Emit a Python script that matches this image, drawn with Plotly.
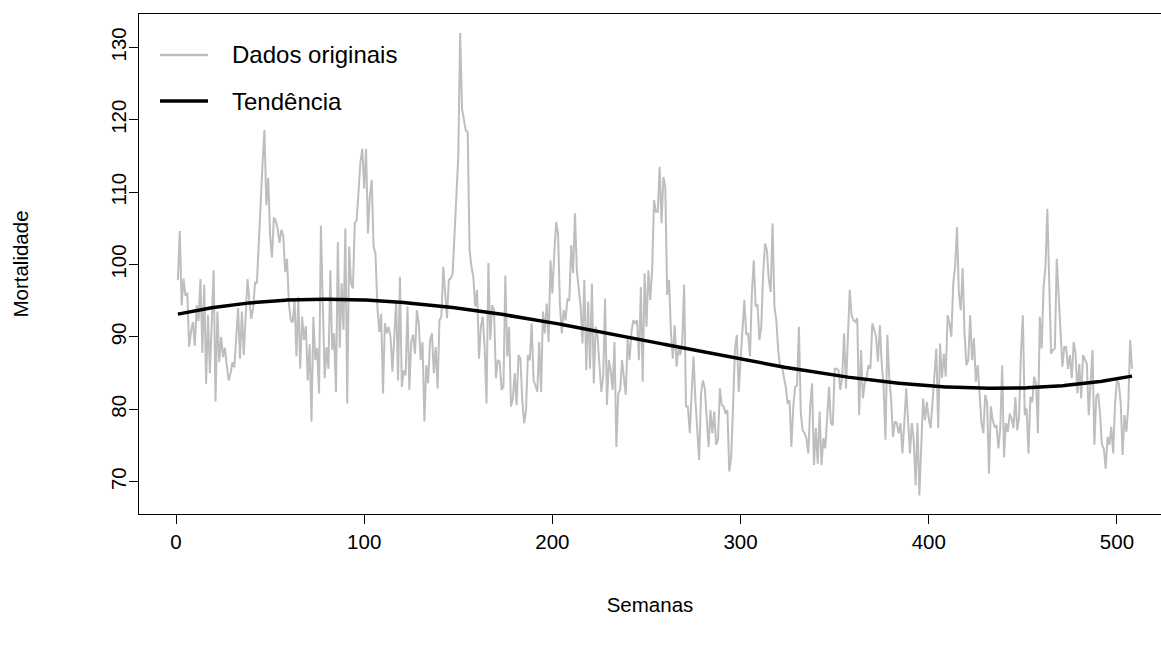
import numpy as np
import plotly.graph_objects as go

weeks = list(range(1, 509))
mortality = [
    97.85, 104.64, 94.36, 98.05, 95.85, 95.98, 88.63, 90.85, 92.06, 88.75,
    94.4, 92.2, 98.0, 87.8, 97.2, 83.5, 93.0, 85.0, 92.0, 99.2,
    81.1, 93.5, 86.5, 90.0, 87.2, 88.5, 86.0, 84.0, 85.0, 86.5,
    85.8, 90.5, 94.0, 87.0, 93.5, 87.5, 93.0, 98.0, 95.0, 92.5,
    94.0, 97.5, 97.5, 104.0, 108.5, 114.0, 118.6, 108.2, 112.0, 104.0,
    101.0, 106.5, 106.0, 105.0, 103.0, 104.8, 104.0, 99.0, 100.8, 94.5,
    92.3, 92.0, 95.0, 87.3, 95.5, 85.6, 92.8, 89.6, 91.5, 84.0,
    89.0, 78.3, 92.8, 86.8, 88.5, 82.2, 105.4, 94.5, 84.3, 88.6,
    85.6, 99.2, 88.2, 90.5, 82.4, 103.1, 88.5, 97.4, 91.0, 105.0,
    80.8, 102.5, 97.4, 96.7, 105.7, 106.1, 110.3, 114.2, 116.0, 110.5,
    116.0, 104.3, 109.4, 111.7, 102.5, 101.5, 94.2, 90.7, 93.2, 82.2,
    91.9, 90.5, 91.4, 90.0, 85.2, 91.0, 95.1, 84.0, 98.3, 83.1,
    85.4, 84.7, 94.2, 82.7, 89.3, 90.3, 87.7, 93.7, 91.9, 86.8,
    89.3, 78.3, 86.1, 83.6, 89.6, 90.5, 85.0, 88.6, 82.9, 92.3,
    92.8, 99.7, 95.5, 92.6, 97.9, 98.1, 98.8, 104.0, 109.0, 115.0,
    132.0, 121.5, 120.0, 118.5, 118.3, 102.0, 99.7, 98.3, 94.2, 96.5,
    87.0, 91.4, 92.8, 88.6, 80.8, 100.2, 89.6, 94.4, 93.7, 84.3,
    86.8, 86.6, 82.7, 83.1, 98.5, 87.3, 91.4, 80.4, 81.5, 85.0,
    80.6, 87.5, 87.0, 81.3, 78.1, 79.9, 87.5, 86.8, 91.9, 84.0,
    83.3, 82.4, 89.3, 82.4, 93.5, 90.5, 94.6, 89.3, 100.6, 96.0,
    101.5, 105.9, 104.3, 94.6, 90.5, 93.7, 92.3, 95.3, 95.0, 102.7,
    98.8, 107.1, 99.2, 96.9, 94.2, 89.1, 97.9, 85.4, 94.9, 85.6,
    97.4, 83.6, 91.4, 90.0, 86.3, 82.4, 84.5, 95.3, 80.6, 86.8,
    85.4, 82.7, 89.3, 74.8, 82.2, 82.7, 86.8, 84.7, 82.0, 90.0,
    86.8, 90.7, 92.3, 91.9, 92.3, 86.8, 96.9, 83.8, 98.8, 91.4,
    99.2, 95.1, 99.2, 108.9, 107.3, 107.3, 113.5, 105.7, 112.1, 110.7,
    95.8, 97.9, 90.5, 87.0, 91.6, 85.9, 88.4, 87.5, 89.3, 97.2,
    80.4, 80.4, 76.7, 82.2, 87.3, 81.3, 77.6, 73.0, 82.2, 84.0,
    82.9, 78.1, 74.8, 79.9, 76.7, 79.7, 75.1, 75.8, 82.9, 80.6,
    80.4, 79.4, 79.9, 71.4, 73.4, 80.4, 88.2, 90.3, 82.4, 86.8,
    91.0, 95.1, 90.3, 90.5, 87.3, 96.0, 100.6, 94.2, 94.5, 89.6,
    91.4, 98.8, 102.9, 102.0, 97.9, 96.2, 105.7, 94.2, 92.3, 88.2,
    85.9, 86.0, 84.5, 83.1, 80.8, 81.3, 74.8, 80.4, 83.1, 83.3,
    91.4, 79.4, 77.1, 76.7, 76.0, 73.9, 80.4, 83.6, 72.3, 77.4,
    72.5, 79.7, 72.3, 76.0, 74.6, 78.3, 83.1, 78.1, 77.8, 85.6,
    85.6, 85.4, 82.7, 84.5, 90.5, 82.9, 89.6, 96.5, 93.0, 92.3,
    92.1, 92.6, 79.2, 88.2, 81.5, 83.6, 84.5, 86.1, 85.6, 91.9,
    91.0, 90.0, 86.6, 91.6, 86.3, 83.1, 75.8, 90.3, 84.5, 81.3,
    76.2, 78.3, 78.1, 76.7, 78.1, 73.9, 78.1, 82.9, 78.5, 73.9,
    78.1, 75.8, 69.5, 78.1, 68.1, 75.8, 81.5, 78.5, 81.0, 78.7,
    77.4, 81.0, 84.7, 88.4, 77.4, 89.1, 84.3, 87.7, 84.5, 93.0,
    91.9, 90.0, 97.4, 99.7, 105.2, 96.0, 93.7, 99.5, 90.5, 86.1,
    86.8, 93.0, 86.8, 89.8, 83.8, 86.1, 82.2, 78.1, 76.7, 82.0,
    81.0, 71.1, 80.4, 78.5, 77.6, 77.8, 74.6, 77.4, 86.1, 73.4,
    78.1, 76.9, 79.4, 78.7, 77.4, 81.7, 77.1, 79.0, 87.9, 93.0,
    79.2, 80.1, 73.9, 81.7, 81.0, 84.5, 83.6, 76.7, 92.8, 88.4,
    96.9, 99.7, 107.7, 99.2, 87.7, 88.2, 88.4, 100.8, 95.5, 90.5,
    85.9, 88.6, 88.6, 85.6, 87.5, 84.3, 89.3, 87.7, 82.2, 86.3,
    81.5, 87.5, 87.0, 86.3, 79.2, 84.5, 88.2, 75.1, 81.7, 82.2,
    79.4, 75.1, 74.6, 71.8, 76.2, 75.1, 77.6, 73.9, 80.8, 84.0,
    83.6, 80.8, 73.7, 79.2, 76.9, 80.4, 89.6, 85.6,
]
assert len(mortality) == len(weeks), len(mortality)

x_ticks = [0, 100, 200, 300, 400, 500]
y_ticks = [70, 80, 90, 100, 110, 120, 130]
legend_labels = ["Dados originais", "Tendência"]
x_title = "Semanas"
y_title = "Mortalidade"

# cubic polynomial trend fitted to the series
coef = np.polyfit(weeks, mortality, 3)
trend = np.polyval(coef, weeks)

FONT = "Liberation Sans, Arial, Helvetica, sans-serif"
GRAY = "#BEBEBE"
AXFS = 20.5
LEGFS = 24

fig = go.Figure()
fig.add_trace(go.Scatter(x=weeks, y=mortality, mode="lines",
                         line=dict(color=GRAY, width=2),
                         name=legend_labels[0], showlegend=False))
fig.add_trace(go.Scatter(x=weeks, y=trend, mode="lines",
                         line=dict(color="black", width=3.5),
                         name=legend_labels[1], showlegend=False))

W, H = 1161, 645
L, R, T, B = 139, 0, 14, 131
pw, ph = W - L - R, H - T - B

def px(xp):
    return (xp - L) / pw

def py(yp):
    return (H - B - yp) / ph

# manual legend (top-left, no box)
for i, (lab, col, wid) in enumerate([(legend_labels[0], GRAY, 2.5),
                                      (legend_labels[1], "black", 3.5)]):
    yy = 55 + 46 * i
    fig.add_shape(type="line", xref="paper", yref="paper",
                  x0=px(160), x1=px(208), y0=py(yy), y1=py(yy),
                  line=dict(color=col, width=wid))
    fig.add_annotation(xref="paper", yref="paper", x=px(230), y=py(yy),
                       text=lab, showarrow=False, xanchor="left",
                       yanchor="middle", font=dict(size=LEGFS, color="black", family=FONT))

fig.update_layout(
    width=W, height=H,
    margin=dict(l=L, r=R, t=T, b=B, pad=0),
    paper_bgcolor="white", plot_bgcolor="white",
    font=dict(family=FONT, size=AXFS, color="black"),
    showlegend=False,
    xaxis=dict(range=[-19.66, 523.4], tickvals=x_ticks, ticktext=[str(v) for v in x_ticks],
               ticks="outside", ticklen=9, tickwidth=1.3, tickcolor="black",
               showline=True, linecolor="black", linewidth=1.3, mirror=True,
               showgrid=False, zeroline=False, tickfont=dict(size=AXFS),
               title=dict(text=x_title, standoff=45, font=dict(size=AXFS))),
    yaxis=dict(range=[65.54, 134.62], tickvals=y_ticks, ticktext=[str(v) for v in y_ticks],
               tickangle=-90, ticklabelstandoff=-5,
               ticks="outside", ticklen=9, tickwidth=1.3, tickcolor="black",
               showline=True, linecolor="black", linewidth=1.3, mirror=False,
               showgrid=False, zeroline=False, tickfont=dict(size=AXFS),
               title=dict(text=y_title, standoff=72, font=dict(size=AXFS))),
)

fig.write_html("out.html")
